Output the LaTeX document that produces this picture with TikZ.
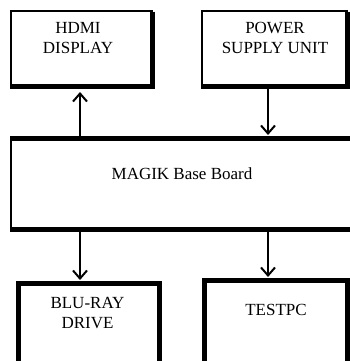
\documentclass[tikz,border=0pt]{standalone}
\usepackage{fontspec}
\setmainfont{Liberation Serif}
\usetikzlibrary{arrows.meta,calc}
\begin{document}
\begin{tikzpicture}[x=1pt,y=-1pt,
  box/.style={draw,line width=1.5pt,outer sep=0pt,inner sep=0pt},
  heavy/.style={line width=5pt,line join=miter,line cap=butt},
  lbl/.style={font=\fontsize{17}{20.5}\selectfont,align=center,inner sep=0pt},
  arr/.style={line width=2pt,-{Straight Barb[length=8pt,width=14pt,line width=2pt]},shorten >=3pt}]
\clip (0,0) rectangle (350,361);
\fill[white] (0,0) rectangle (350,361);
% boxes
\node[box,minimum width=141pt,minimum height=75pt] (hdmi) at (81.5,48.5) {};
\node[box,minimum width=145pt,minimum height=75pt] (psu) at (274.5,48.5) {};
\node[box,minimum width=359pt,minimum height=91pt] (board) at (190.5,183.5) {};
\node[box,minimum width=141pt,minimum height=97pt] (blu) at (88.5,331.5) {};
\node[box,minimum width=143pt,minimum height=100pt] (pc) at (275.5,330) {};
% heavy edges
\draw[heavy] ([yshift=-0.75pt]hdmi.north east) -- (hdmi.south east) -- ([xshift=-0.75pt]hdmi.south west);
\draw[heavy] ([yshift=-0.75pt]psu.north east) -- (psu.south east) -- ([xshift=-0.75pt]psu.south west);
\draw[heavy] ([xshift=-0.75pt]board.north west) -- (board.north east);
\draw[heavy] ([xshift=-0.75pt]board.south west) -- (board.south east);
\draw[heavy] (blu.south west) -- (blu.north west) -- (blu.north east) -- (blu.south east);
\draw[heavy] (pc.south west) -- (pc.north west) -- (pc.north east) -- (pc.south east);
% labels
\node[lbl] (hdmitxt) at (78,38) {HDMI\\DISPLAY};
\node[lbl] (psutxt) at (275,38) {POWER\\SUPPLY UNIT};
\node[lbl] (boardtxt) at (182,174) {MAGIK Base Board};
\node[lbl] (blutxt) at (87.5,313) {BLU-RAY\\DRIVE};
\node[lbl] (pctxt) at (276,310) {TESTPC};
% connectors
\coordinate (xl) at (80,0);
\coordinate (xr) at (268,0);
\draw[arr,shorten >=6pt] (board.north -| xl) -- (hdmi.south -| xl);
\draw[arr] (psu.south -| xr) -- (board.north -| xr);
\draw[arr] (board.south -| xl) -- (blu.north -| xl);
\draw[arr] (board.south -| xr) -- (pc.north -| xr);
\end{tikzpicture}
\end{document}
